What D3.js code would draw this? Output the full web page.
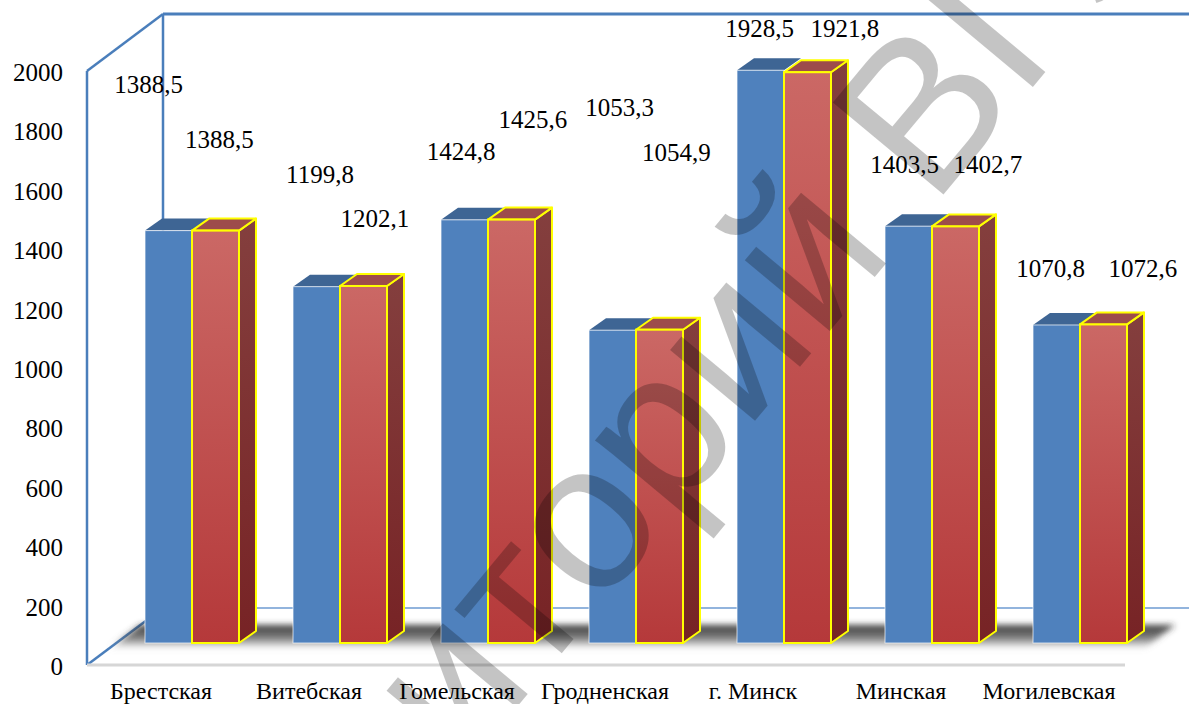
<!DOCTYPE html>
<html>
<head>
<meta charset="utf-8">
<script src="https://cdn.jsdelivr.net/npm/d3@7"></script>
<style>
  html, body { margin: 0; padding: 0; background: #ffffff; }
  svg { display: block; }
</style>
</head>
<body>
<svg id="chart" width="1189" height="704"></svg>
<script>
// Regions and the two series of values
const categories = ["Брестская", "Витебская", "Гомельская", "Гродненская", "г. Минск", "Минская", "Могилевская"];
const seriesBlue = [1388.5, 1199.8, 1424.8, 1053.3, 1928.5, 1403.5, 1070.8];
const seriesRed  = [1388.5, 1202.1, 1425.6, 1054.9, 1921.8, 1402.7, 1072.6];
const valueTicks = [0, 200, 400, 600, 800, 1000, 1200, 1400, 1600, 1800, 2000];
const watermarkText = "Репозиторий ВГУ";

// Where each value label sits, relative to the top-front centre of its column
const labelNudgeBlue = [[-20, -138], [3.5, -104], [-3.5, -60], [7, -214], [-1, -33], [-4, -53], [-6, -48]];
const labelNudgeRed  = [[4, -83], [11.5, -59], [21.5, -92], [17, -169], [37.5, -35], [32.5, -53], [39.5, -47]];

const svg = d3.select("#chart");
const W = 1189, H = 704;
svg.append("rect").attr("width", W).attr("height", H).attr("fill", "#ffffff");

// 3D box geometry
const depthX = 76, depthY = -57;        // wall depth offset
const colDX = 17, colDY = -12;          // column depth offset
const frontLeft = 87, floorFrontRight = 1125;
const yMax = 2000;
const serif = "'Liberation Serif', 'Times New Roman', Times, serif";

// Scales
const yFront = d3.scaleLinear().domain([0, yMax]).range([665, 71]);
const yBack  = d3.scaleLinear().domain([0, yMax]).range([665 + depthY, 71 + depthY]);
const yCol   = d3.scaleLinear().domain([0, yMax]).range([643, 49]);
const x = d3.scaleBand().domain(categories).range([118, 1154]).paddingInner(0.365).paddingOuter(0.1825);
const xSub = d3.scaleBand().domain(["blue", "red"]).range([0, x.bandwidth()]);

const defs = svg.append("defs");
const redFront = defs.append("linearGradient").attr("id", "redFront").attr("x1", 0).attr("y1", 0).attr("x2", 0).attr("y2", 1);
redFront.append("stop").attr("offset", "0%").attr("stop-color", "#cb6865");
redFront.append("stop").attr("offset", "100%").attr("stop-color", "#b5393a");
const redSide = defs.append("linearGradient").attr("id", "redSide").attr("x1", 0).attr("y1", 0).attr("x2", 0).attr("y2", 1);
redSide.append("stop").attr("offset", "0%").attr("stop-color", "#843f3e");
redSide.append("stop").attr("offset", "100%").attr("stop-color", "#772325");
const shadowGrad = defs.append("linearGradient").attr("id", "shadowGrad").attr("x1", 0).attr("y1", 0).attr("x2", 0).attr("y2", 1);
shadowGrad.append("stop").attr("offset", "0%").attr("stop-color", "#2a2a2a").attr("stop-opacity", 0.95);
shadowGrad.append("stop").attr("offset", "60%").attr("stop-color", "#555555").attr("stop-opacity", 0.7);
shadowGrad.append("stop").attr("offset", "100%").attr("stop-color", "#999999").attr("stop-opacity", 0);
defs.append("filter").attr("id", "soft").attr("x", "-5%").attr("y", "-50%").attr("width", "110%").attr("height", "200%")
  .append("feGaussianBlur").attr("stdDeviation", 3);

const line = (g, p, stroke, w) => g.append("path").attr("d", d3.line()(p))
  .attr("fill", "none").attr("stroke", stroke).attr("stroke-width", w);

// Walls and floor
const frame = svg.append("g");
const backLeft = frontLeft + depthX, backRight = floorFrontRight + depthX;
line(frame, [[backLeft, yBack(yMax)], [backRight, yBack(yMax)]], "#4a7ebb", 3);
line(frame, [[backLeft, yBack(yMax)], [backLeft, yBack(0)]], "#4a7ebb", 2.5);
line(frame, [[backLeft, yBack(0)], [backRight, yBack(0)]], "#6e9bd2", 1.6);
line(frame, [[frontLeft, yFront(yMax)], [frontLeft, yFront(0)]], "#4a7ebb", 2.5);
line(frame, [[frontLeft, yFront(yMax)], [backLeft, yBack(yMax)]], "#4a7ebb", 2.5);
line(frame, [[frontLeft, yFront(0)], [backLeft, yBack(0)]], "#4a7ebb", 2.5);
line(frame, [[frontLeft, yFront(0)], [floorFrontRight, yFront(0)]], "#d6d6d6", 3);

// Floor shadow band under the columns
const shTop = 625, shBot = 649;
const k = -depthY / depthX;
svg.append("path")
  .attr("d", d3.line()([
    [frontLeft + (yFront(0) - shTop) / k, shTop],
    [1175, shTop],
    [1175 - (shBot - shTop) / k, shBot],
    [frontLeft + (yFront(0) - shBot) / k, shBot]
  ]) + "Z")
  .attr("fill", "url(#shadowGrad)")
  .attr("filter", "url(#soft)");

// Columns
const cols = svg.append("g");
categories.forEach((c, i) => {
  const x0 = x(c);
  const yb = yCol(0);
  // blue column (front + top; its side is hidden by the red one)
  const bx = x0 + xSub("blue"), bw = xSub.bandwidth(), bt = yCol(seriesBlue[i]);
  cols.append("path").attr("d", d3.line()([[bx, bt], [bx + colDX, bt + colDY], [bx + bw + colDX, bt + colDY], [bx + bw, bt]]) + "Z")
    .attr("fill", "#3e6594");
  cols.append("rect").attr("x", bx).attr("y", bt).attr("width", bw).attr("height", yb - bt)
    .attr("fill", "#4f81bd").attr("stroke", "#ffffff").attr("stroke-opacity", 0.7).attr("stroke-width", 1);
  // red column
  const rx = x0 + xSub("red"), rt = yCol(seriesRed[i]);
  cols.append("path").attr("d", d3.line()([[rx + bw, rt], [rx + bw + colDX, rt + colDY], [rx + bw + colDX, yb + colDY], [rx + bw, yb]]) + "Z")
    .attr("fill", "url(#redSide)").attr("stroke", "#ffff00").attr("stroke-width", 2).attr("stroke-linejoin", "round");
  cols.append("path").attr("d", d3.line()([[rx, rt], [rx + colDX, rt + colDY], [rx + bw + colDX, rt + colDY], [rx + bw, rt]]) + "Z")
    .attr("fill", "#9d4c4b").attr("stroke", "#ffff00").attr("stroke-width", 2).attr("stroke-linejoin", "round");
  cols.append("rect").attr("x", rx).attr("y", rt).attr("width", bw).attr("height", yb - rt)
    .attr("fill", "url(#redFront)").attr("stroke", "#ffff00").attr("stroke-width", 2);
});

// Value axis labels
const yAxis = d3.axisLeft(yFront).tickValues(valueTicks).tickSize(0).tickPadding(24).tickFormat(d3.format("d"));
const yG = svg.append("g").attr("transform", `translate(${frontLeft},0)`).call(yAxis);
yG.attr("font-family", serif);
yG.select(".domain").remove();
yG.selectAll("text").attr("font-family", serif)
  .attr("font-size", 25).attr("fill", "#000").attr("dy", "0.38em");

// Category labels
const xAxis = d3.axisBottom(x).tickSize(0).tickPadding(4);
const xG = svg.append("g").attr("transform", `translate(-31,678)`).call(xAxis);
xG.attr("font-family", serif);
xG.select(".domain").remove();
xG.selectAll("text").attr("font-family", serif)
  .attr("font-size", 24).attr("fill", "#000");

// Value labels
const fmt = v => d3.format(".1f")(v).replace(".", ",");
const labels = svg.append("g").attr("font-family", serif)
  .attr("font-size", 25).attr("fill", "#000").attr("text-anchor", "middle");
categories.forEach((c, i) => {
  const bw = xSub.bandwidth();
  const bcx = x(c) + xSub("blue") + bw / 2;
  const rcx = x(c) + xSub("red") + bw / 2;
  labels.append("text").attr("x", bcx + labelNudgeBlue[i][0]).attr("y", yCol(seriesBlue[i]) + labelNudgeBlue[i][1]).text(fmt(seriesBlue[i]));
  labels.append("text").attr("x", rcx + labelNudgeRed[i][0]).attr("y", yCol(seriesRed[i]) + labelNudgeRed[i][1]).text(fmt(seriesRed[i]));
});

// Diagonal watermark over the chart: the baseline runs from the foot of "т"
// to the foot of the "Г" stem, and the glyphs are sized to span that distance.
const wmFrom = [567, 647], wmTo = [1038, 81];
const wm = svg.append("text")
  .attr("font-family", "'Liberation Sans', Arial, sans-serif")
  .attr("font-size", 100)
  .attr("fill", "#000")
  .attr("fill-opacity", 0.23)
  .text(watermarkText);
const wmNode = wm.node();
const iT = watermarkText.indexOf("т"), iG = watermarkText.indexOf("Г");
const measure = fs => {
  const tMid = (wmNode.getStartPositionOfChar(iT).x + wmNode.getEndPositionOfChar(iT).x) / 2;
  const gStem = wmNode.getStartPositionOfChar(iG).x + 0.12 * fs;
  return { tMid, gStem };
};
const span = Math.hypot(wmTo[0] - wmFrom[0], wmTo[1] - wmFrom[1]);
const m0 = measure(100);
const wmSize = 100 * span / (m0.gStem - m0.tMid);
wm.attr("font-size", wmSize);
const m1 = measure(wmSize);
const wmAngle = Math.atan2(wmTo[1] - wmFrom[1], wmTo[0] - wmFrom[0]) * 180 / Math.PI;
wm.attr("transform", `translate(${wmFrom[0]},${wmFrom[1]}) rotate(${wmAngle}) translate(${-m1.tMid},0)`);
</script>
</body>
</html>
